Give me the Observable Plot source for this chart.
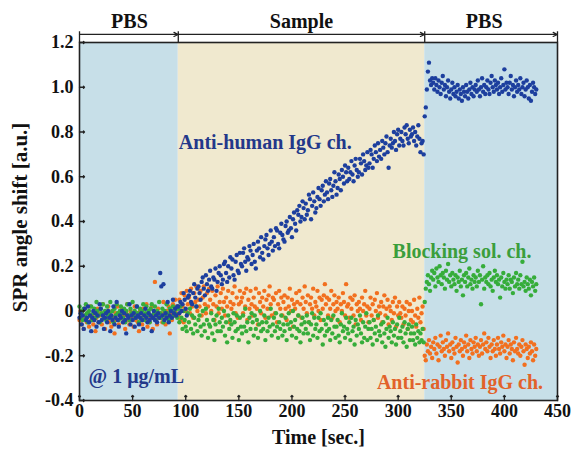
<!DOCTYPE html>
<html>
<head>
<meta charset="utf-8">
<script src="https://cdn.jsdelivr.net/npm/d3@7"></script>
<script src="https://cdn.jsdelivr.net/npm/@observablehq/plot@0.6"></script>
<style>
  html, body { margin: 0; padding: 0; background: #fff; }
</style>
</head>
<body>
<div id="chart"></div>
<script>
// Sampling: one reading per second, starting at t = 0 s (values in hundredths of a.u.)
const sampleStep = 1;

// Anti-human IgG channel
const antiHumanY = [
  -3,-1,-6,-2,-8,1,-4,-3,2,-5,
  -2,-9,-3,0,-4,-1,-7,-2,-5,3,
  1,-4,-2,-8,-3,-1,-5,0,-3,-9,
  -2,-4,2,-6,-3,4,-4,-7,-2,-3,
  0,-5,-1,-4,-10,-2,-3,3,-6,-2,
  -4,-1,-7,-3,2,-2,-6,-3,-1,-4,
  -8,-2,1,-3,-5,-1,-4,-2,-9,-3,
  0,-4,-2,-5,-1,-3,17,11,-2,12,
  -4,-1,-3,4,-5,-2,0,-3,5,-1,
  1,-2,2,
  2,-1,4,0,3,8,5,1,-2,6,
  7,9,4,3,8,12,6,2,10,11,
  8,5,13,15,10,7,16,12,9,14,
  18,11,10,15,14,19,9,13,17,20,
  16,12,14,21,22,17,13,20,15,24,
  19,23,16,14,22,25,18,17,26,21,
  20,26,28,22,18,24,23,29,27,21,
  25,30,22,19,27,31,28,24,33,26,
  23,29,32,34,28,25,30,36,31,27,
  33,29,37,36,30,28,35,39,34,32,
  31,38,40,35,36,42,37,33,41,44,
  39,36,45,43,47,40,42,49,46,41,
  48,43,45,52,50,41,47,53,49,44,
  46,51,55,50,47,54,56,49,52,58,
  53,50,57,59,54,51,56,62,58,52,
  55,61,59,54,63,60,57,65,62,58,
  64,59,62,67,61,58,65,68,63,60,
  62,68,66,61,70,67,63,65,71,64,
  66,72,70,64,68,74,71,67,75,69,
  72,68,76,73,70,75,78,71,64,74,
  77,73,75,80,76,72,79,81,74,77,
  80,76,74,82,79,83,77,75,81,78,
  79,82,76,80,74,78,83,77,71,75,
  76,70,87,91,99,107,111,103,101,104,
  102,99,104,101,98,103,100,97,102,105,
  99,101,96,100,103,98,95,99,102,97,
  100,96,98,101,95,99,97,94,100,98,
  96,101,98,95,99,102,97,100,96,99,
  101,98,103,99,96,100,104,98,101,97,
  100,103,99,97,102,105,100,98,103,101,
  99,102,97,100,104,98,101,108,99,102,
  100,97,102,105,99,101,96,100,103,98,
  101,99,104,97,100,102,96,99,103,100,
  95,101,94,98,102,100,97,99
];

// Blocking solution channel
const blockingY = [
  2,-3,0,-4,1,-2,3,-1,-5,0,
  -2,2,-4,-1,1,-3,4,0,-2,-5,
  1,-1,3,-3,0,-4,2,-2,-1,4,
  -3,0,-5,1,-2,3,-1,-4,0,2,
  -1,-3,1,-5,0,3,-2,-4,1,-1,
  4,-2,0,-3,2,-1,-5,1,-3,0,
  3,-4,-1,2,-2,0,-5,1,3,-3,
  -1,2,-4,0,-2,4,-1,-3,1,-5,
  0,-2,3,-1,-4,1,-3,0,2,-2,
  -1,1,-3,
  1,-5,2,-3,-8,0,-4,-7,-9,-1,
  -5,1,-8,-2,-10,-3,-6,2,-9,-4,
  -2,-7,-11,0,-6,-9,1,-4,-12,-6,
  -7,-1,-10,-4,-13,-6,-2,-9,1,-5,
  -9,-3,-7,0,-11,-5,-14,-2,-8,-4,
  -6,-12,-1,-5,-9,-2,-8,-13,-3,-7,
  -10,-2,-7,1,-9,-5,-14,-3,-8,-1,
  -5,-11,-2,-8,-4,-12,-6,0,-9,-5,
  -8,-2,-13,-5,-9,-3,-7,1,-11,-6,
  -3,-9,-1,-7,-12,-5,-8,-2,-11,-6,
  -9,-3,-13,-6,-1,-8,-5,-11,0,-7,
  -4,-12,-8,-2,-9,-14,-6,-3,-10,-5,
  -8,-2,-10,-5,-13,-6,-1,-11,-3,-8,
  -6,-12,-3,-9,-1,-8,-15,-4,-11,-6,
  -9,-3,-8,-13,-4,-10,-2,-7,-12,-7,
  -4,-11,-14,-6,-1,-9,-7,-12,-3,-8,
  -10,-5,-13,-3,-9,-7,-15,-4,-11,-6,
  -8,-2,-10,-14,-5,-12,-7,-1,-13,-8,
  -5,-12,-8,-15,-4,-10,-7,-13,-2,-9,
  -11,-6,-14,-5,-10,-16,-8,-3,-12,-7,
  -9,-14,-5,-11,-8,-15,-6,-12,-3,-9,
  -12,-7,-14,-5,-10,-16,-8,-6,-13,-10,
  -7,-13,-10,-15,-6,-12,-9,-14,-10,-13,
  -8,-14,4,10,13,16,12,9,15,18,
  14,17,11,19,15,13,20,16,12,17,
  15,10,18,14,21,13,16,11,17,14,
  12,16,9,15,13,18,11,14,7,16,
  13,17,11,15,19,12,14,10,16,13,
  15,11,18,13,16,3,14,20,10,15,
  13,16,12,17,11,14,9,15,18,13,
  16,12,14,6,15,11,17,13,10,14,
  12,16,10,14,13,8,15,11,17,12,
  14,10,16,12,22,11,13,9,15,12,
  10,14,7,13,11,15,9,12
];

// Anti-rabbit IgG channel
const antiRabbitY = [
  -4,0,-6,-2,-8,1,-3,-5,-1,-7,
  2,-4,-2,-6,0,-9,-3,1,-5,-2,
  -1,-6,3,-3,-8,-1,-4,2,-5,-2,
  -7,0,-3,-10,-1,-4,2,-6,-2,-3,
  1,-5,-2,-8,-1,3,-4,-6,0,-3,
  -2,-7,2,-4,-1,-5,-9,0,-3,-6,
  1,-2,-4,3,-7,-1,-5,-3,2,-8,
  -2,13,-4,-6,1,-3,-3,-1,-5,4,
  -2,-6,0,-3,2,-10,-1,-4,3,-2,
  5,-1,2,
  -2,5,-4,8,2,-5,7,0,9,3,
  6,-1,10,2,-3,8,4,11,0,5,
  2,9,-2,6,11,3,-1,8,2,10,
  5,0,9,3,-4,7,2,11,-1,4,
  8,1,10,4,-2,6,2,9,-5,4,
  1,8,3,11,-1,6,-3,3,9,4,
  6,-1,8,2,10,-4,5,1,9,3,
  -2,6,2,10,1,-6,8,4,-1,6,
  2,9,-3,5,1,7,11,3,-2,6,
  5,-1,8,-5,3,9,1,6,-2,4,
  7,1,-4,6,2,10,0,5,-7,3,
  1,8,4,-2,9,3,-3,6,1,11,
  4,-1,7,-5,3,6,1,10,-2,4,
  2,9,0,6,-4,5,1,7,12,3,
  6,-2,5,1,9,-3,3,7,0,4,
  1,6,-5,3,0,8,4,-2,12,2,
  3,-3,6,1,5,-2,7,-6,3,0,
  4,1,-4,6,0,3,9,-2,2,-5,
  1,6,-2,3,-4,5,0,8,-3,2,
  -1,4,-5,2,7,-2,1,5,-6,2,
  0,-4,4,-1,6,-7,2,-2,4,-1,
  -3,2,-6,1,-2,4,-8,0,3,-4,
  0,-5,5,-2,-7,1,-3,6,-5,-1,
  2,-8,-20,-22,-15,-18,-13,-19,-16,-21,
  -14,-17,-12,-19,-15,-22,-16,-11,-18,-14,
  -17,-20,-13,-16,-10,-18,-15,-21,-14,-17,
  -19,-12,-16,-23,-15,-18,-13,-17,-20,-14,
  -16,-11,-18,-15,-21,-13,-17,-19,-14,-16,
  -12,-18,-15,-20,-16,-13,-19,-15,-10,-17,
  -14,-18,-12,-16,-21,-15,-18,-13,-17,-20,
  -15,-12,-17,-19,-14,-16,-11,-18,-15,-21,
  -16,-13,-19,-15,-17,-22,-14,-18,-12,-17,
  -19,-15,-20,-16,-13,-18,-24,-15,-17,-21,
  -16,-19,-14,-18,-22,-15,-20,-17
];

// Phases of the run
const phaseStart = [0, 93, 325];
const phaseEnd = [93, 325, 450];
const phaseLabel = ["PBS", "Sample", "PBS"];
const phaseLabelX = [47, 209, 381];

// Axis ticks
const xTicks = [0, 50, 100, 150, 200, 250, 300, 350, 400, 450];
const yTicks = [-0.4, -0.2, 0, 0.2, 0.4, 0.6, 0.8, 1.0, 1.2];

// Annotations
const seriesNames = ["Anti-human IgG ch.", "Blocking sol. ch.", "Anti-rabbit IgG ch."];
const concentrationNote = "@ 1 \u03bcg/mL";

const toRows = arr => arr.map((v, i) => ({t: i * sampleStep, v: v / 100}));
const human = toRows(antiHumanY);
const blocking = toRows(blockingY);
const rabbit = toRows(antiRabbitY);
const phases = phaseStart.map((s, i) => ({s, e: phaseEnd[i], label: phaseLabel[i], lx: phaseLabelX[i]}));

const font = "'Liberation Serif', 'Times New Roman', serif";
const blueDot = "#1d3f9e", greenDot = "#36ad3a", orangeDot = "#f2701f";
const blueText = "#23388a", greenText = "#3b9e3c", orangeText = "#e2622a";

const chart = Plot.plot({
  width: 574,
  height: 451,
  marginLeft: 79,
  marginRight: 17,
  marginTop: 42,
  marginBottom: 51,
  style: {fontFamily: font, fontSize: "18px", fontWeight: "bold", background: "#fff", overflow: "visible", color: "#111"},
  x: {domain: [0, 450]},
  y: {domain: [-0.4, 1.2]},
  marks: [
    Plot.rect(phases, {x1: "s", x2: "e", y1: -0.4, y2: 1.2, fill: (d, i) => i === 1 ? "#f0e9cf" : "#c7dfe8"}),
    Plot.dot(rabbit, {x: "t", y: "v", r: 2.2, fill: orangeDot}),
    Plot.dot(blocking, {x: "t", y: "v", r: 2.2, fill: greenDot}),
    Plot.dot(human, {x: "t", y: "v", r: 2.2, fill: blueDot}),
    Plot.frame({stroke: "#222", strokeWidth: 1.6}),
    // inward ticks
    Plot.vector(xTicks, {x: d => d, y: -0.4, length: 5, rotate: 0, anchor: "start", stroke: "#222", strokeWidth: 1.3}),
    Plot.vector(yTicks, {x: 0, y: d => d, length: 5, rotate: 90, anchor: "start", stroke: "#222", strokeWidth: 1.3}),
    Plot.axisX(xTicks, {tickSize: 0, tickPadding: 4, label: null, fontSize: 18}),
    Plot.axisY(yTicks, {tickSize: 0, tickPadding: 6, label: null, fontSize: 18, tickFormat: d => d === 0 ? "0" : d.toFixed(1)}),
    Plot.text(["Time [sec.]"], {frameAnchor: "bottom", textAnchor: "middle", lineAnchor: "middle", dy: 37, fontSize: 20, fill: "#111"}),
    Plot.text(["SPR angle shift [a.u.]"], {frameAnchor: "left", textAnchor: "middle", lineAnchor: "middle", dx: -59, dy: -4, rotate: -90, fontSize: 21, fill: "#111"}),
    // phase arrows on top
    Plot.arrow(phases, {x1: "s", x2: "e", y1: 1.236, y2: 1.236, stroke: "#222", strokeWidth: 1.2, headLength: 6, headAngle: 50}),
    Plot.ruleX(phaseStart.concat([450]), {y1: 1.2, y2: 1.248, stroke: "#222", strokeWidth: 1.3}),
    Plot.text(phases, {x: "lx", y: 1.236, text: "label", dy: -13, fontSize: 20, fill: "#111"}),
    // series annotations
    Plot.text([seriesNames[0]], {x: 93.5, y: 0.752, textAnchor: "start", fontSize: 20, fill: blueText}),
    Plot.text([seriesNames[1]], {x: 294.7, y: 0.265, textAnchor: "start", fontSize: 20, fill: greenText}),
    Plot.text([seriesNames[2]], {x: 280, y: -0.32, textAnchor: "start", fontSize: 20, fill: orangeText}),
    Plot.text([concentrationNote], {x: 8.5, y: -0.293, textAnchor: "start", fontSize: 20, fill: blueText})
  ]
});
document.getElementById("chart").appendChild(chart);
</script>
</body>
</html>
